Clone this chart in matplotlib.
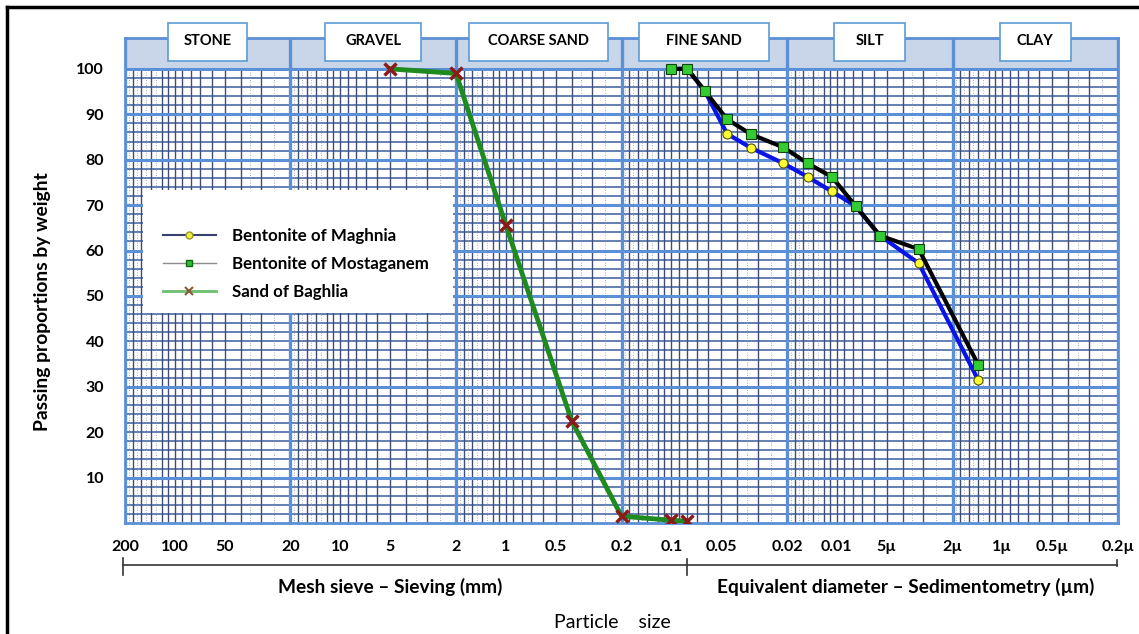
import numpy as np
import matplotlib
matplotlib.use('Agg')
from matplotlib import pyplot as plt
from matplotlib.lines import Line2D
from matplotlib.patches import Rectangle

plt.rcParams['font.family'] = ['Lato', 'DejaVu Sans']

### data ###

# sieving (mm) - sand
sand_d = [5, 2, 1, 0.4, 0.2, 0.1, 0.08]
sand_p = [100, 99, 65.6, 22.5, 1.5, 0.6, 0.4]

# sieving + sedimentometry - bentonites
bent_d = [0.1, 0.08, 0.063, 0.046, 0.033, 0.021, 0.015, 0.0107, 0.0077, 0.0055, 0.0032, 0.0014]
most_p = [100, 100, 95.2, 88.9, 85.6, 82.7, 79.2, 76.2, 69.8, 63.3, 60.3, 34.9]
magh_p = [100, 100, 95.2, 85.7, 82.6, 79.2, 76.2, 73.0, 69.8, 63.3, 57.2, 31.5]

x_ticks = [200, 100, 50, 20, 10, 5, 2, 1, 0.5, 0.2, 0.1, 0.05, 0.02, 0.01,
           0.005, 0.002, 0.001, 0.0005, 0.0002]
x_labels = ['200', '100', '50', '20', '10', '5', '2', '1', '0.5', '0.2', '0.1',
            '0.05', '0.02', '0.01', '5µ', '2µ', '1µ', '0.5µ', '0.2µ']
y_ticks = [10, 20, 30, 40, 50, 60, 70, 80, 90, 100]

classes = ['STONE', 'GRAVEL', 'COARSE SAND', 'FINE SAND', 'SILT', 'CLAY']
class_bounds = [200, 20, 2, 0.2, 0.02, 0.002, 0.0002]
sieve_limit = 0.08  # sieving / sedimentometry boundary

### layout helpers (pixels of the 1139x634 image) ###

W, H = 1139, 634
def fx(px):
    return px / W
def fy(py):
    return 1 - py / H

major_c = '#5b8fd6'
minor_c = '#3e4d74'
hminor_c = '#4a6aa8'
band_c = '#c9d6ea'

fig = plt.figure(figsize=(W / 100, H / 100), dpi=100)
ax = fig.add_axes([fx(125), fy(523), (1118 - 125) / W, (523 - 38) / H])
ax.set_xscale('log')
ax.set_xlim(200, 0.0002)
ax.set_ylim(0, 106.8)

# header band
ax.axhspan(100, 106.8, color=band_c, zorder=0)

# graph paper: horizontal lines
for v in range(2, 100, 2):
    ax.axhline(v, color=hminor_c, lw=1.2, zorder=1)
for v in [10, 30, 50, 60, 70, 80, 90, 100]:
    ax.axhline(v, color=major_c, lw=2.2, zorder=1.5)

# graph paper: vertical lines
mult = [1.5, 2, 2.5, 3, 3.5, 4, 4.5, 5, 5.5, 6, 7, 8, 9]
faint = [1.25, 1.75, 6.5, 7.5, 8.5, 9.5]
for base in class_bounds[1:]:
    ax.vlines([base * m for m in mult], 0, 100, color=minor_c, lw=1.0, zorder=1)
    ax.vlines([base * m for m in faint], 0, 100, color='#8a93a8', lw=0.6,
              linestyles=(0, (1, 2)), zorder=1)
for b in class_bounds:
    ax.axvline(b, color=major_c, lw=2.4, zorder=1.6)

for s in ax.spines.values():
    s.set_color(major_c)
    s.set_linewidth(2)

ax.set_xticks(x_ticks)
ax.set_xticklabels(x_labels, fontsize=11.5, fontweight='bold')
ax.xaxis.set_minor_locator(matplotlib.ticker.NullLocator())
ax.set_yticks(y_ticks)
ax.set_yticklabels([str(v) for v in y_ticks], fontsize=11.5, fontweight='bold')
ax.tick_params(axis='x', length=0, pad=12)
ax.tick_params(axis='y', length=0, pad=15)

# white area behind legend
ax.add_patch(Rectangle((fx(143), fy(313)), fx(453) - fx(143), fy(190) - fy(313),
                       transform=fig.transFigure, facecolor='white',
                       edgecolor='none', zorder=2.5))

### data curves ###

ax.plot(bent_d, magh_p, color='#0a14e6', lw=3, marker='o', ms=6.5,
        mfc='#ffff33', mec='#555500', mew=0.8, zorder=4)
ax.plot(bent_d, most_p, color='black', lw=3, marker='s', ms=7,
        mfc='#33cc33', mec='#114411', mew=0.8, zorder=5)
ax.plot(sand_d, sand_p, color='#1f8a1f', lw=3.5, marker='x', ms=8,
        mec='#8b1a1a', mew=2.5, zorder=6)

handles = [
    Line2D([], [], color='#3a3f72', lw=1.5, marker='o', ms=5, mfc='#eeee44', mec='#999922'),
    Line2D([], [], color='#8c8c8c', lw=1, marker='s', ms=4.5, mfc='#33bb33', mec='#116611'),
    Line2D([], [], color='#6cbf6c', lw=2, marker='x', ms=6, mec='#8b5a3a', mew=1.5),
]
ax.legend(handles, ['Bentonite of Maghnia', 'Bentonite of Mostaganem', 'Sand of Baghlia'],
          loc='upper left', bbox_to_anchor=(fx(163), fy(228)), bbox_transform=fig.transFigure,
          frameon=False, prop={'weight': 'bold', 'size': 12.2},
          handlelength=3.1, handletextpad=0.95, labelspacing=0.72, borderpad=0,
          borderaxespad=0)

### class boxes on top ###

box_w = [79, 96, 139, 130, 71, 71]
for name, lo, hi, w in zip(classes, class_bounds[:-1], class_bounds[1:], box_w):
    xc = ax.transData.transform((np.sqrt(lo * hi), 50))[0]
    fig.add_artist(Rectangle((fx(xc - w / 2), fy(61)), w / W, (61 - 23) / H,
                             transform=fig.transFigure, facecolor='white',
                             edgecolor='#5b9bd5', lw=1.2, zorder=5))
    fig.text(fx(xc), fy(41), name, ha='center', va='center', fontsize=10.5,
             fontweight='bold', zorder=6)

### bottom scale ###

lc = '#333333'
x_lim = ax.transData.transform((sieve_limit, 50))[0]
fig.add_artist(Line2D([fx(123), fx(1117)], [fy(565), fy(565)],
                      transform=fig.transFigure, color=lc, lw=1.2))
for xp, y0, y1 in [(123, 558, 575), (x_lim, 559, 575), (1117, 560, 566)]:
    fig.add_artist(Line2D([fx(xp), fx(xp)], [fy(y0), fy(y1)],
                          transform=fig.transFigure, color=lc, lw=1.2))

fig.text(fx(390), fy(587), 'Mesh sieve – Sieving (mm)', ha='center', va='center',
         fontsize=13.8, fontweight='bold')
fig.text(fx(906), fy(587), 'Equivalent diameter – Sedimentometry (µm)', ha='center',
         va='center', fontsize=13.8, fontweight='bold')
fig.text(fx(612), fy(622), 'Particle    size', ha='center', va='center', fontsize=14)
fig.text(fx(43), fy(302), 'Passing proportions by weight', ha='center', va='center',
         rotation=90, fontsize=13.9, fontweight='bold')

# outer frame
fig.add_artist(Line2D([fx(7), 1], [fy(7), fy(7)], transform=fig.transFigure,
                      color='black', lw=2.5))
fig.add_artist(Line2D([fx(7), fx(7)], [fy(7), 0], transform=fig.transFigure,
                      color='black', lw=2.5))

fig.savefig('out.png', dpi=100)
